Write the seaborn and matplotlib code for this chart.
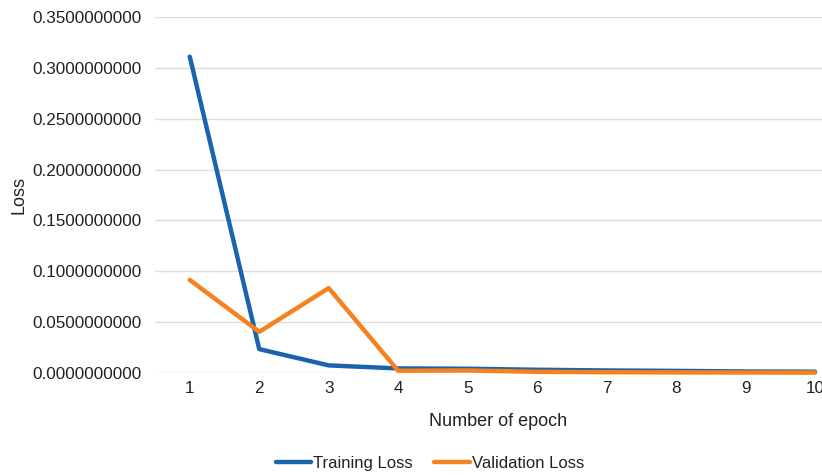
import pandas as pd
import matplotlib
matplotlib.use('Agg')
from matplotlib import pyplot as plt
import seaborn as sns

epochs = [1, 2, 3, 4, 5, 6, 7, 8, 9, 10]
training_loss = [0.311, 0.0235, 0.0075, 0.0045, 0.0042, 0.0032, 0.0025, 0.0021, 0.0015, 0.0013]
validation_loss = [0.0915, 0.0405, 0.0835, 0.0022, 0.0025, 0.0012, 0.0008, 0.0006, 0.0005, 0.0004]
y_ticks = [0.0, 0.05, 0.10, 0.15, 0.20, 0.25, 0.30, 0.35]

df = pd.DataFrame({'Epoch': epochs * 2,
                   'Loss': training_loss + validation_loss,
                   'Series': ['Training Loss'] * 10 + ['Validation Loss'] * 10})

sns.set_style('white')
plt.rcParams['font.family'] = ['Liberation Sans', 'DejaVu Sans']

fig = plt.figure(figsize=(8.22, 4.75), dpi=100)
ax = fig.add_axes([0.1886, 0.2147, 0.8114, 0.7495])
g = sns.lineplot(data=df, x='Epoch', y='Loss', hue='Series',
                 palette=['#1a64ad', '#f5821f'], linewidth=3.2, ax=ax,
                 legend=True, clip_on=False, solid_capstyle='round')

ax.set_xlim(0.5, 10.1)
ax.set_ylim(0, 0.35)
ax.set_xticks(epochs)
ax.set_yticks(y_ticks)
ax.set_yticklabels([f'{v:.10f}' for v in y_ticks])
ax.tick_params(axis='both', length=0, labelsize=12.3, colors='#222222')
ax.tick_params(axis='y', pad=10)
ax.tick_params(axis='x', pad=6)
ax.grid(axis='y', color='#dddddd', linewidth=1)
ax.set_axisbelow(True)
for s in ax.spines.values():
    s.set_visible(False)
ax.set_xlabel('Number of epoch', fontsize=13, color='#222222')
ax.xaxis.set_label_coords(0.514, -0.113)
ax.set_ylabel('Loss', fontsize=13, color='#222222', labelpad=3)

handles, labels = ax.get_legend_handles_labels()
ax.get_legend().remove()
leg = fig.legend(handles, labels, loc='center', bbox_to_anchor=(0.523, 0.025),
                 ncol=2, frameon=False, fontsize=12, handlelength=2.15,
                 handletextpad=0.1, columnspacing=1.3)
for t in leg.get_texts():
    t.set_color('#222222')

plt.savefig('out.png', dpi=100)
